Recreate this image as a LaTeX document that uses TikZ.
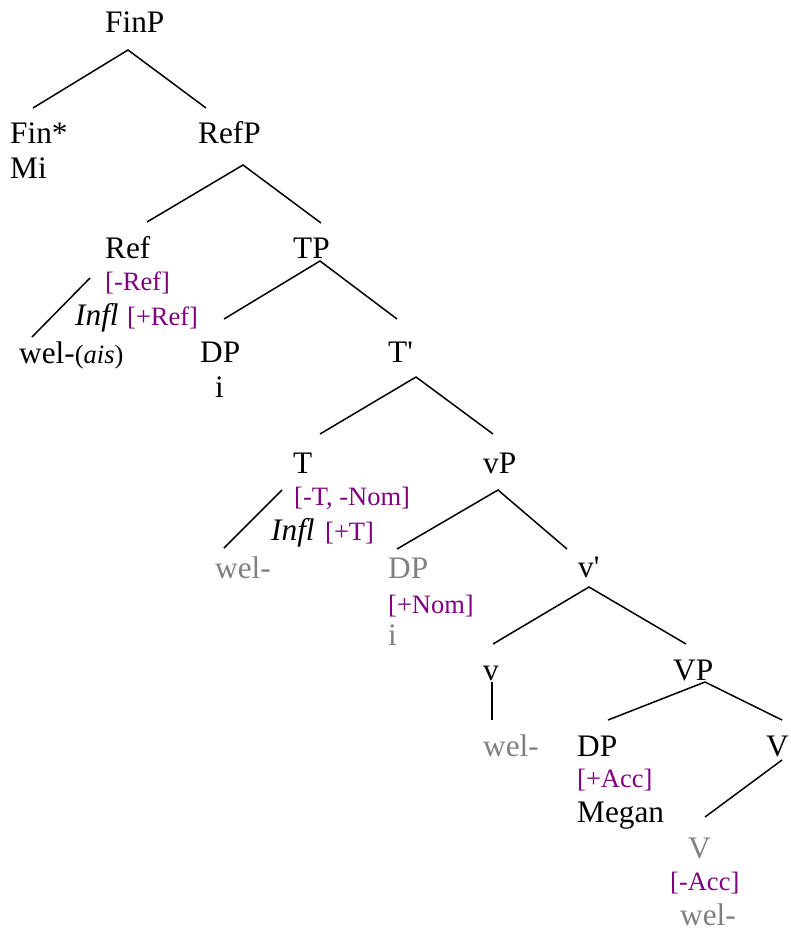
\documentclass[tikz,border=0pt]{standalone}
\usepackage{fontspec}
\setmainfont{Liberation Serif}[Ligatures=TeXOff]
\definecolor{feat}{HTML}{800080}
\definecolor{trace}{HTML}{808080}
\begin{document}
\begin{tikzpicture}[x=1pt,y=-1pt,
  lbl/.style={anchor=base west,inner sep=0pt,font=\fontsize{31.3}{35}\selectfont},
  ftr/.style={anchor=base west,inner sep=0pt,text=feat,font=\fontsize{26.5}{30}\selectfont},
  grey/.style={lbl,text=trace},
  br/.style={line width=1.5pt}]
\useasboundingbox (0,0) rectangle (790,934);
% labels
\node[lbl] (finp) at (105,33) {FinP};
\node[lbl] (fin) at (10,143) {Fin*};
\node[lbl] (mi) at (10,178) {Mi};
\node[lbl] (refp) at (198,143) {RefP};
\node[lbl] (ref) at (105,258) {Ref};
\node[ftr] (negref) at (105,290) {[-Ref]};
\node[lbl] (infla) at (75,325) {\itshape Infl};
\node[ftr] (posref) at (127,325) {[+Ref]};
\node[lbl] (welais) at (19,363) {wel-{\fontsize{26.5}{30}\selectfont(\textit{ais})}};
\node[lbl] (tp) at (293,258) {TP};
\node[lbl] (dpa) at (200,362) {DP};
\node[lbl] (ia) at (215,397) {i};
\node[lbl] (tbar) at (388,362) {T'};
\node[lbl] (t) at (293,473) {T};
\node[ftr] (negt) at (294,505) {[-T, -Nom]};
\node[lbl] (inflb) at (271,540) {\itshape Infl};
\node[ftr] (post) at (325,540) {[+T]};
\node[grey] (wela) at (215,578) {wel-};
\node[lbl] (vp) at (483,473) {vP};
\node[grey] (dpb) at (388,578) {DP};
\node[ftr] (nom) at (388,613) {[+Nom]};
\node[grey] (ib) at (388,645) {i};
\node[lbl] (vbar) at (578,577) {v'};
\node[lbl] (v) at (483,680) {v};
\node[grey] (welb) at (483,756) {wel-};
\node[lbl] (bigvp) at (673,680) {VP};
\node[lbl] (dpc) at (577,756) {DP};
\node[ftr] (acc) at (577,787) {[+Acc]};
\node[lbl] (megan) at (577,822) {Megan};
\node[lbl] (bigv) at (766,756) {V};
\node[grey] (bigvb) at (688,858) {V};
\node[ftr] (negacc) at (670,890) {[-Acc]};
\node[grey] (welc) at (680,925) {wel-};
% branch points
\coordinate (finpB) at (128,50);
\coordinate (finT) at (33,108);
\coordinate (refpT) at (206,108);
\coordinate (refpB) at (243,165);
\coordinate (refT) at (147,222);
\coordinate (tpT) at (321,223);
\coordinate (refB) at (90,278);
\coordinate (welaisT) at (32,337);
\coordinate (tpB) at (320,261);
\coordinate (dpaT) at (224,319);
\coordinate (tbarT) at (397,319);
\coordinate (tbarB) at (416,377);
\coordinate (tT) at (320,434);
\coordinate (vpT) at (493,434);
\coordinate (tB) at (282,490);
\coordinate (welaT) at (224,548);
\coordinate (vpB) at (498,490);
\coordinate (dpbT) at (397,549);
\coordinate (vbarT) at (567,549);
\coordinate (vbarB) at (589,587);
\coordinate (vT) at (493,644);
\coordinate (bigvpT) at (686,644);
\coordinate (vB) at (492,682);
\coordinate (welbT) at (492,720);
\coordinate (bigvpB) at (705,682);
\coordinate (dpcT) at (608,720);
\coordinate (bigvT) at (782,720);
\coordinate (bigvB) at (782,760);
\coordinate (bigvbT) at (705,817);
% branches
\draw[br] (finT) -- (finpB) -- (refpT);
\draw[br] (refT) -- (refpB) -- (tpT);
\draw[br] (refB) -- (welaisT);
\draw[br] (dpaT) -- (tpB) -- (tbarT);
\draw[br] (tT) -- (tbarB) -- (vpT);
\draw[br] (tB) -- (welaT);
\draw[br] (dpbT) -- (vpB) -- (vbarT);
\draw[br] (vT) -- (vbarB) -- (bigvpT);
\draw[br] (vB) -- (welbT);
\draw[br] (dpcT) -- (bigvpB) -- (bigvT);
\draw[br] (bigvB) -- (bigvbT);
\end{tikzpicture}
\end{document}
